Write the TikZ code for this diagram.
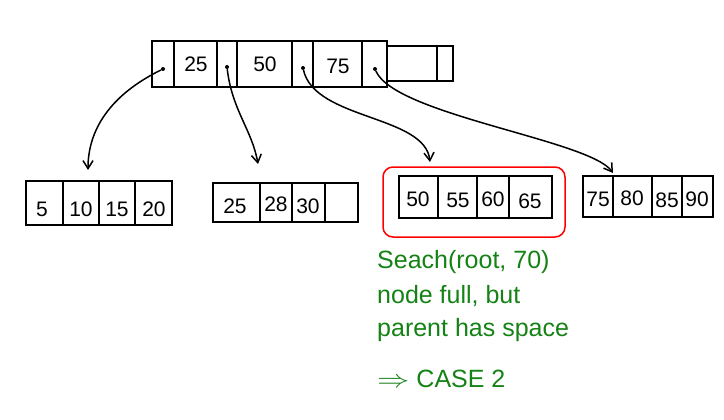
\documentclass[tikz,border=0pt]{standalone}
\usepackage{fontspec}
\setmainfont{Liberation Sans}
\usetikzlibrary{arrows.meta}
\definecolor{pen}{RGB}{0,0,0}
\definecolor{greenink}{RGB}{20,130,20}
\tikzset{
  box/.style={draw=pen, line width=1.5pt},
  key/.style={font=\fontsize{21}{21}\selectfont, inner sep=0pt, anchor=center},
  ptr/.style={draw=pen, line width=1.5pt, -{Straight Barb[length=8pt,width=10pt,line width=1.5pt]}},
  dotp/.style={circle, fill=pen, inner sep=0pt, minimum size=4pt},
  note/.style={text=greenink, font=\fontsize{25}{25}\selectfont, anchor=west, inner sep=0pt}
}
\begin{document}
\begin{tikzpicture}[x=1pt,y=-1pt]
\useasboundingbox (0,0) rectangle (724,420);
% root node
\draw[box] (152,41) rectangle (387,87);
\foreach \x in {174,217,237,292,313,362} \draw[box] (\x,41) -- (\x,87);
\draw[box] (387,46) rectangle (453,81);
\draw[box] (437,46) -- (437,81);
\node[key] (r25) at (196,64) {25};
\node[key] (r50) at (265,64) {50};
\node[key] (r75) at (338,66) {75};
\node[dotp] (p0) at (163,69) {};
\node[dotp] (p1) at (227,67) {};
\node[dotp] (p2) at (303,68) {};
\node[dotp] (p3) at (375,69) {};
% leaf 1
\draw[box] (26,181) rectangle (172,225);
\foreach \x in {63,99,135} \draw[box] (\x,181) -- (\x,225);
\node[key] (l5) at (42,209) {5};
\node[key] (l10) at (81,209) {10};
\node[key] (l15) at (117,209) {15};
\node[key] (l20) at (154,209) {20};
\coordinate (t1) at (88,170);
% leaf 2
\draw[box] (213,183) rectangle (358,222);
\foreach \x in {260,292,325} \draw[box] (\x,183) -- (\x,222);
\node[key] (m25) at (235,206) {25};
\node[key] (m28) at (276,204) {28};
\node[key] (m30) at (308,206) {30};
\coordinate (t2) at (258,164);
% leaf 3
\draw[box] (399,176) rectangle (552,218);
\foreach \x in {438,477,509} \draw[box] (\x,176) -- (\x,218);
\node[key] (n50) at (418,199) {50};
\node[key] (n55) at (458,200) {55};
\node[key] (n60) at (493,199) {60};
\node[key] (n65) at (530,201) {65};
\coordinate (t3) at (430,162);
\draw[red, line width=1.5pt, rounded corners=10pt] (383,167) rectangle (565,237);
% leaf 4
\draw[box] (583,176) rectangle (713,217);
\foreach \x in {613,652,682} \draw[box] (\x,176) -- (\x,217);
\node[key] (o75) at (598,199) {75};
\node[key] (o80) at (632,198) {80};
\node[key] (o85) at (667,200) {85};
\node[key] (o90) at (697,199) {90};
\coordinate (t4) at (613,173);
% pointers
\draw[ptr] (p0) .. controls (110,95) and (88,130) .. (t1);
\draw[ptr] (p1) .. controls (232,110) and (252,130) .. (t2);
\draw[ptr] (p2) .. controls (315,120) and (425,115) .. (t3);
\draw[ptr] (p3) .. controls (395,115) and (590,140) .. (t4);
% note
\node[note] (s1) at (377,262) {Seach(root, 70)};
\node[note] (s2) at (377,296) {node full, but};
\node[note] (s3) at (377,330) {parent has space};
\node[note] (s4) at (377,379) {\scalebox{1.3}[1]{$\Rightarrow$} CASE 2};
\end{tikzpicture}
\end{document}
